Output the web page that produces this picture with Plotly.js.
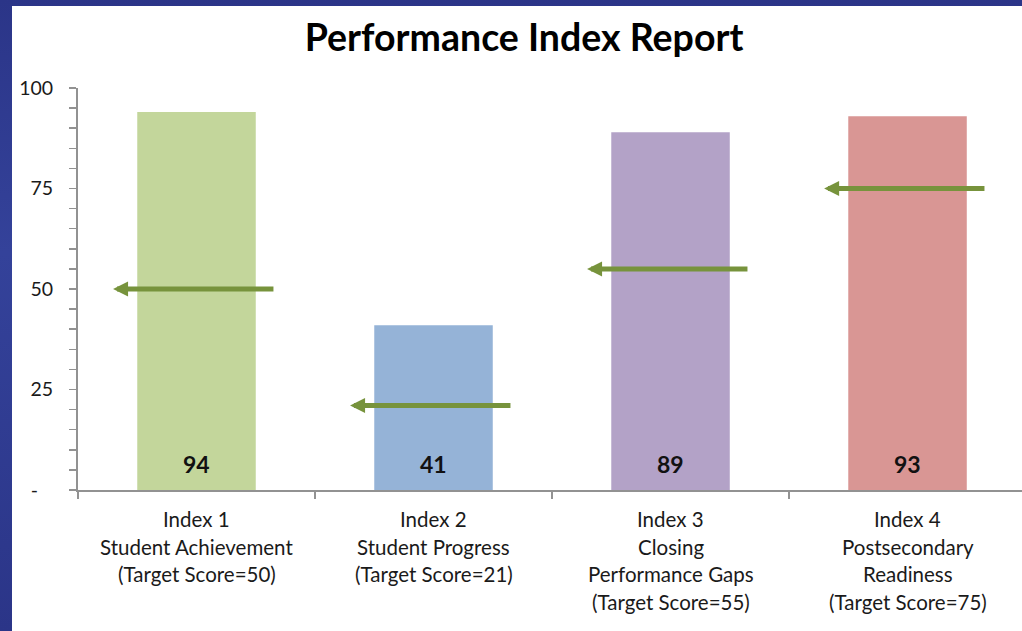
<!DOCTYPE html>
<html>
<head>
<meta charset="utf-8">
<script src="https://cdn.plot.ly/plotly-3.0.1.min.js"></script>
<style>
  html, body { margin: 0; padding: 0; width: 1022px; height: 631px; overflow: hidden;
    background: linear-gradient(180deg, #2b3588 0%, #34429a 40%, #2b3588 100%); }
  #chart { position: absolute; left: 12px; top: 6px; width: 1010px; height: 625px; background: #ffffff; }
</style>
</head>
<body>
<div id="chart"></div>
<script>
// ---- data ----
const categories = ["Index 1", "Index 2", "Index 3", "Index 4"];
const labelLines = [
  ["Index 1", "Student Achievement", "(Target Score=50)"],
  ["Index 2", "Student Progress", "(Target Score=21)"],
  ["Index 3", "Closing", "Performance Gaps", "(Target Score=55)"],
  ["Index 4", "Postsecondary", "Readiness", "(Target Score=75)"]
];
const scores = [94, 41, 89, 93];
const targets = [50, 21, 55, 75];
const barColors = ["#C3D69B", "#95B3D7", "#B3A2C7", "#D99694"];
const yTickVals = [0, 25, 50, 75, 100];
const yTickText = ["-\u00a0\u00a0\u00a0", "25", "50", "75", "100"];

const FONT = "Lato, 'Open Sans', sans-serif";
const arrowColor = "#77933C";

const trace = {
  type: "bar",
  x: [0, 1, 2, 3],
  y: scores,
  width: 0.5,
  marker: { color: barColors, line: { width: 0 } },
  hoverinfo: "skip"
};

const annotations = [];
// score labels near bar bottom
scores.forEach((v, i) => {
  annotations.push({
    x: i, y: 0, xref: "x", yref: "y", yshift: 26,
    text: "<b>" + v + "</b>", showarrow: false,
    font: { family: FONT, size: 23, color: "#111111" },
    xanchor: "center", yanchor: "middle"
  });
});
// target arrows
targets.forEach((t, i) => {
  annotations.push({
    x: i - 0.352, y: t, xref: "x", yref: "y",
    ax: i + 0.331, ay: t, axref: "x", ayref: "y",
    showarrow: true, arrowhead: 2, arrowsize: 0.6, arrowwidth: 5,
    arrowcolor: arrowColor, text: "", standoff: 0
  });
});
// category labels (multi-line)
labelLines.forEach((lines, i) => {
  lines.forEach((ln, j) => {
    annotations.push({
      x: i, y: 0, xref: "x", yref: "y", yshift: -(29 + 27.7 * j),
      text: ln, showarrow: false,
      font: { family: FONT, size: 20.5, color: "#1a1a1a" },
      xanchor: "center", yanchor: "middle"
    });
  });
});

const layout = {
  width: 1010, height: 625,
  margin: { l: 66, r: 0, t: 82, b: 141 },
  paper_bgcolor: "#ffffff", plot_bgcolor: "#ffffff",
  showlegend: false,
  title: {
    text: "<b>Performance Index Report</b>",
    font: { family: FONT, size: 37.5, color: "#000000" },
    x: 0.507, xref: "container", xanchor: "center",
    y: 1 - 32 / 625, yref: "container", yanchor: "middle"
  },
  xaxis: {
    type: "linear",
    range: [-0.5, 3.483],
    tickvals: [-0.5, 0.5, 1.5, 2.5, 3.5],
    ticktext: ["", "", "", "", ""],
    showticklabels: false,
    ticks: "outside", ticklen: 7, tickwidth: 1.5, tickcolor: "#929292",
    showline: true, linecolor: "#929292", linewidth: 2,
    showgrid: false, zeroline: false, fixedrange: true
  },
  yaxis: {
    range: [0, 100],
    tickvals: yTickVals, ticktext: yTickText,
    ticks: "outside", ticklen: 7, tickwidth: 1.5, tickcolor: "#929292",
    minor: { dtick: 5, ticks: "outside", ticklen: 7, tickwidth: 1.5, tickcolor: "#929292", showgrid: false },
    ticklabelstandoff: 12,
    tickfont: { family: FONT, size: 19.5, color: "#1a1a1a" },
    showline: true, linecolor: "#929292", linewidth: 2,
    showgrid: false, zeroline: false, fixedrange: true
  },
  annotations: annotations
};

Plotly.newPlot("chart", [trace], layout, { displayModeBar: false, staticPlot: true });
</script>
</body>
</html>
